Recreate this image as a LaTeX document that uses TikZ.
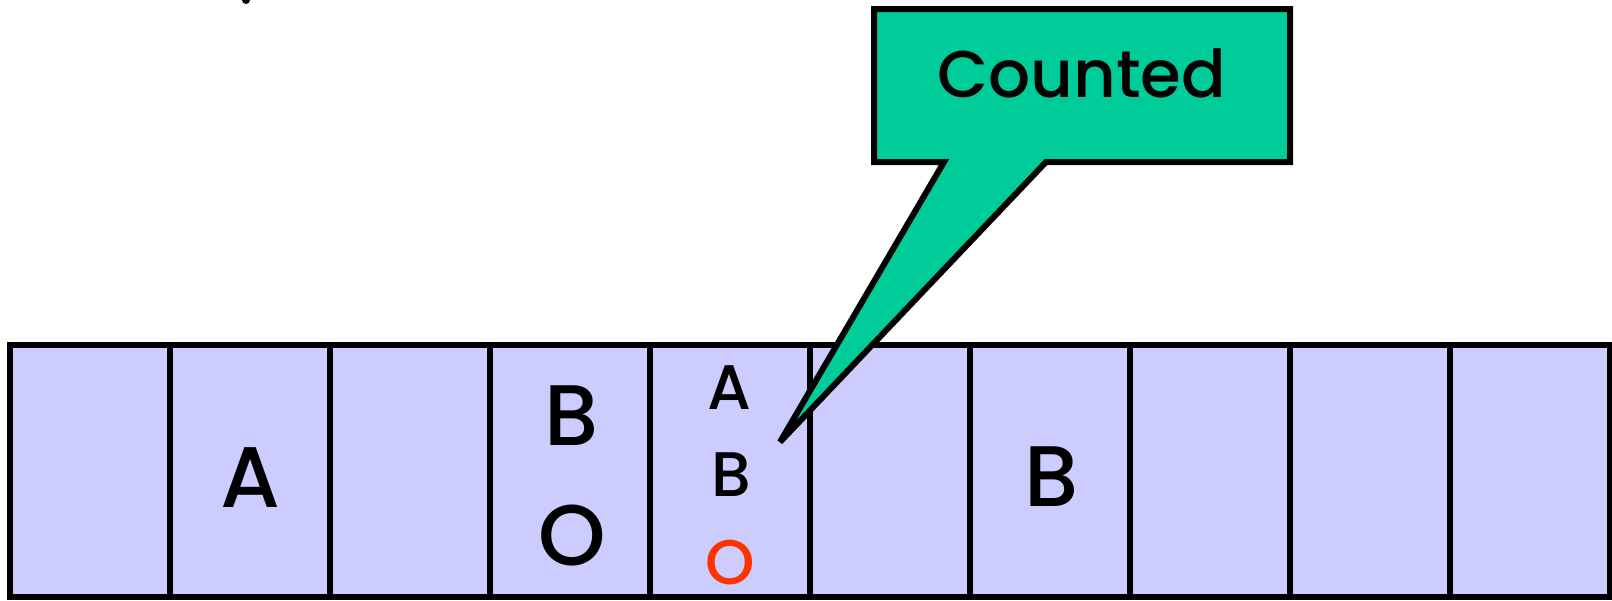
\documentclass[tikz,border=0pt]{standalone}
\usepackage{fontspec}
\setmainfont{Poppins}[BoldFont={Poppins Medium}]
\definecolor{cellblue}{HTML}{CCCCFF}
\definecolor{calloutgreen}{HTML}{00CC99}
\definecolor{redO}{HTML}{FF3300}
\tikzset{
  cell/.style={draw=black, line width=6pt, fill=cellblue, minimum width=160pt, minimum height=252pt, inner sep=0pt, outer sep=0pt},
  bigletter/.style={inner sep=0pt, font=\fontsize{86}{86}\selectfont\bfseries},
  smallletter/.style={inner sep=0pt, font=\fontsize{63}{63}\selectfont\bfseries},
  calltext/.style={inner sep=0pt, font=\fontsize{66}{66}\selectfont\bfseries},
}
\begin{document}
\begin{tikzpicture}[x=1pt,y=-1pt]
\useasboundingbox (0,0) rectangle (1612,600);
\foreach \i in {1,...,10}{
  \node[cell] (c\i) at ({90+160*(\i-1)},471) {};
}
\node[bigletter] (a2) at (250,478) {A};
\node[bigletter] (b4) at (572,416) {B};
\node[bigletter] (o4) at (572,536) {O};
\node[smallletter] (a5) at (729,388) {A};
\node[smallletter] (b5) at (731,475) {B};
\node[smallletter, text=redO] (o5) at (730,563) {O};
\node[bigletter] (b7) at (1052,477) {B};
% callout
\coordinate (tip) at (780,442);
\draw[line width=6pt, fill=calloutgreen, line join=miter, miter limit=3]
  (874,9) -- (1290,9) -- (1290,162) -- (1046,162) -- (tip) -- (944,162) -- (874,162) -- cycle;
\node[calltext] (counted) at (1082,73) {Counted};
\fill (246,0) circle (4);
\end{tikzpicture}
\end{document}
